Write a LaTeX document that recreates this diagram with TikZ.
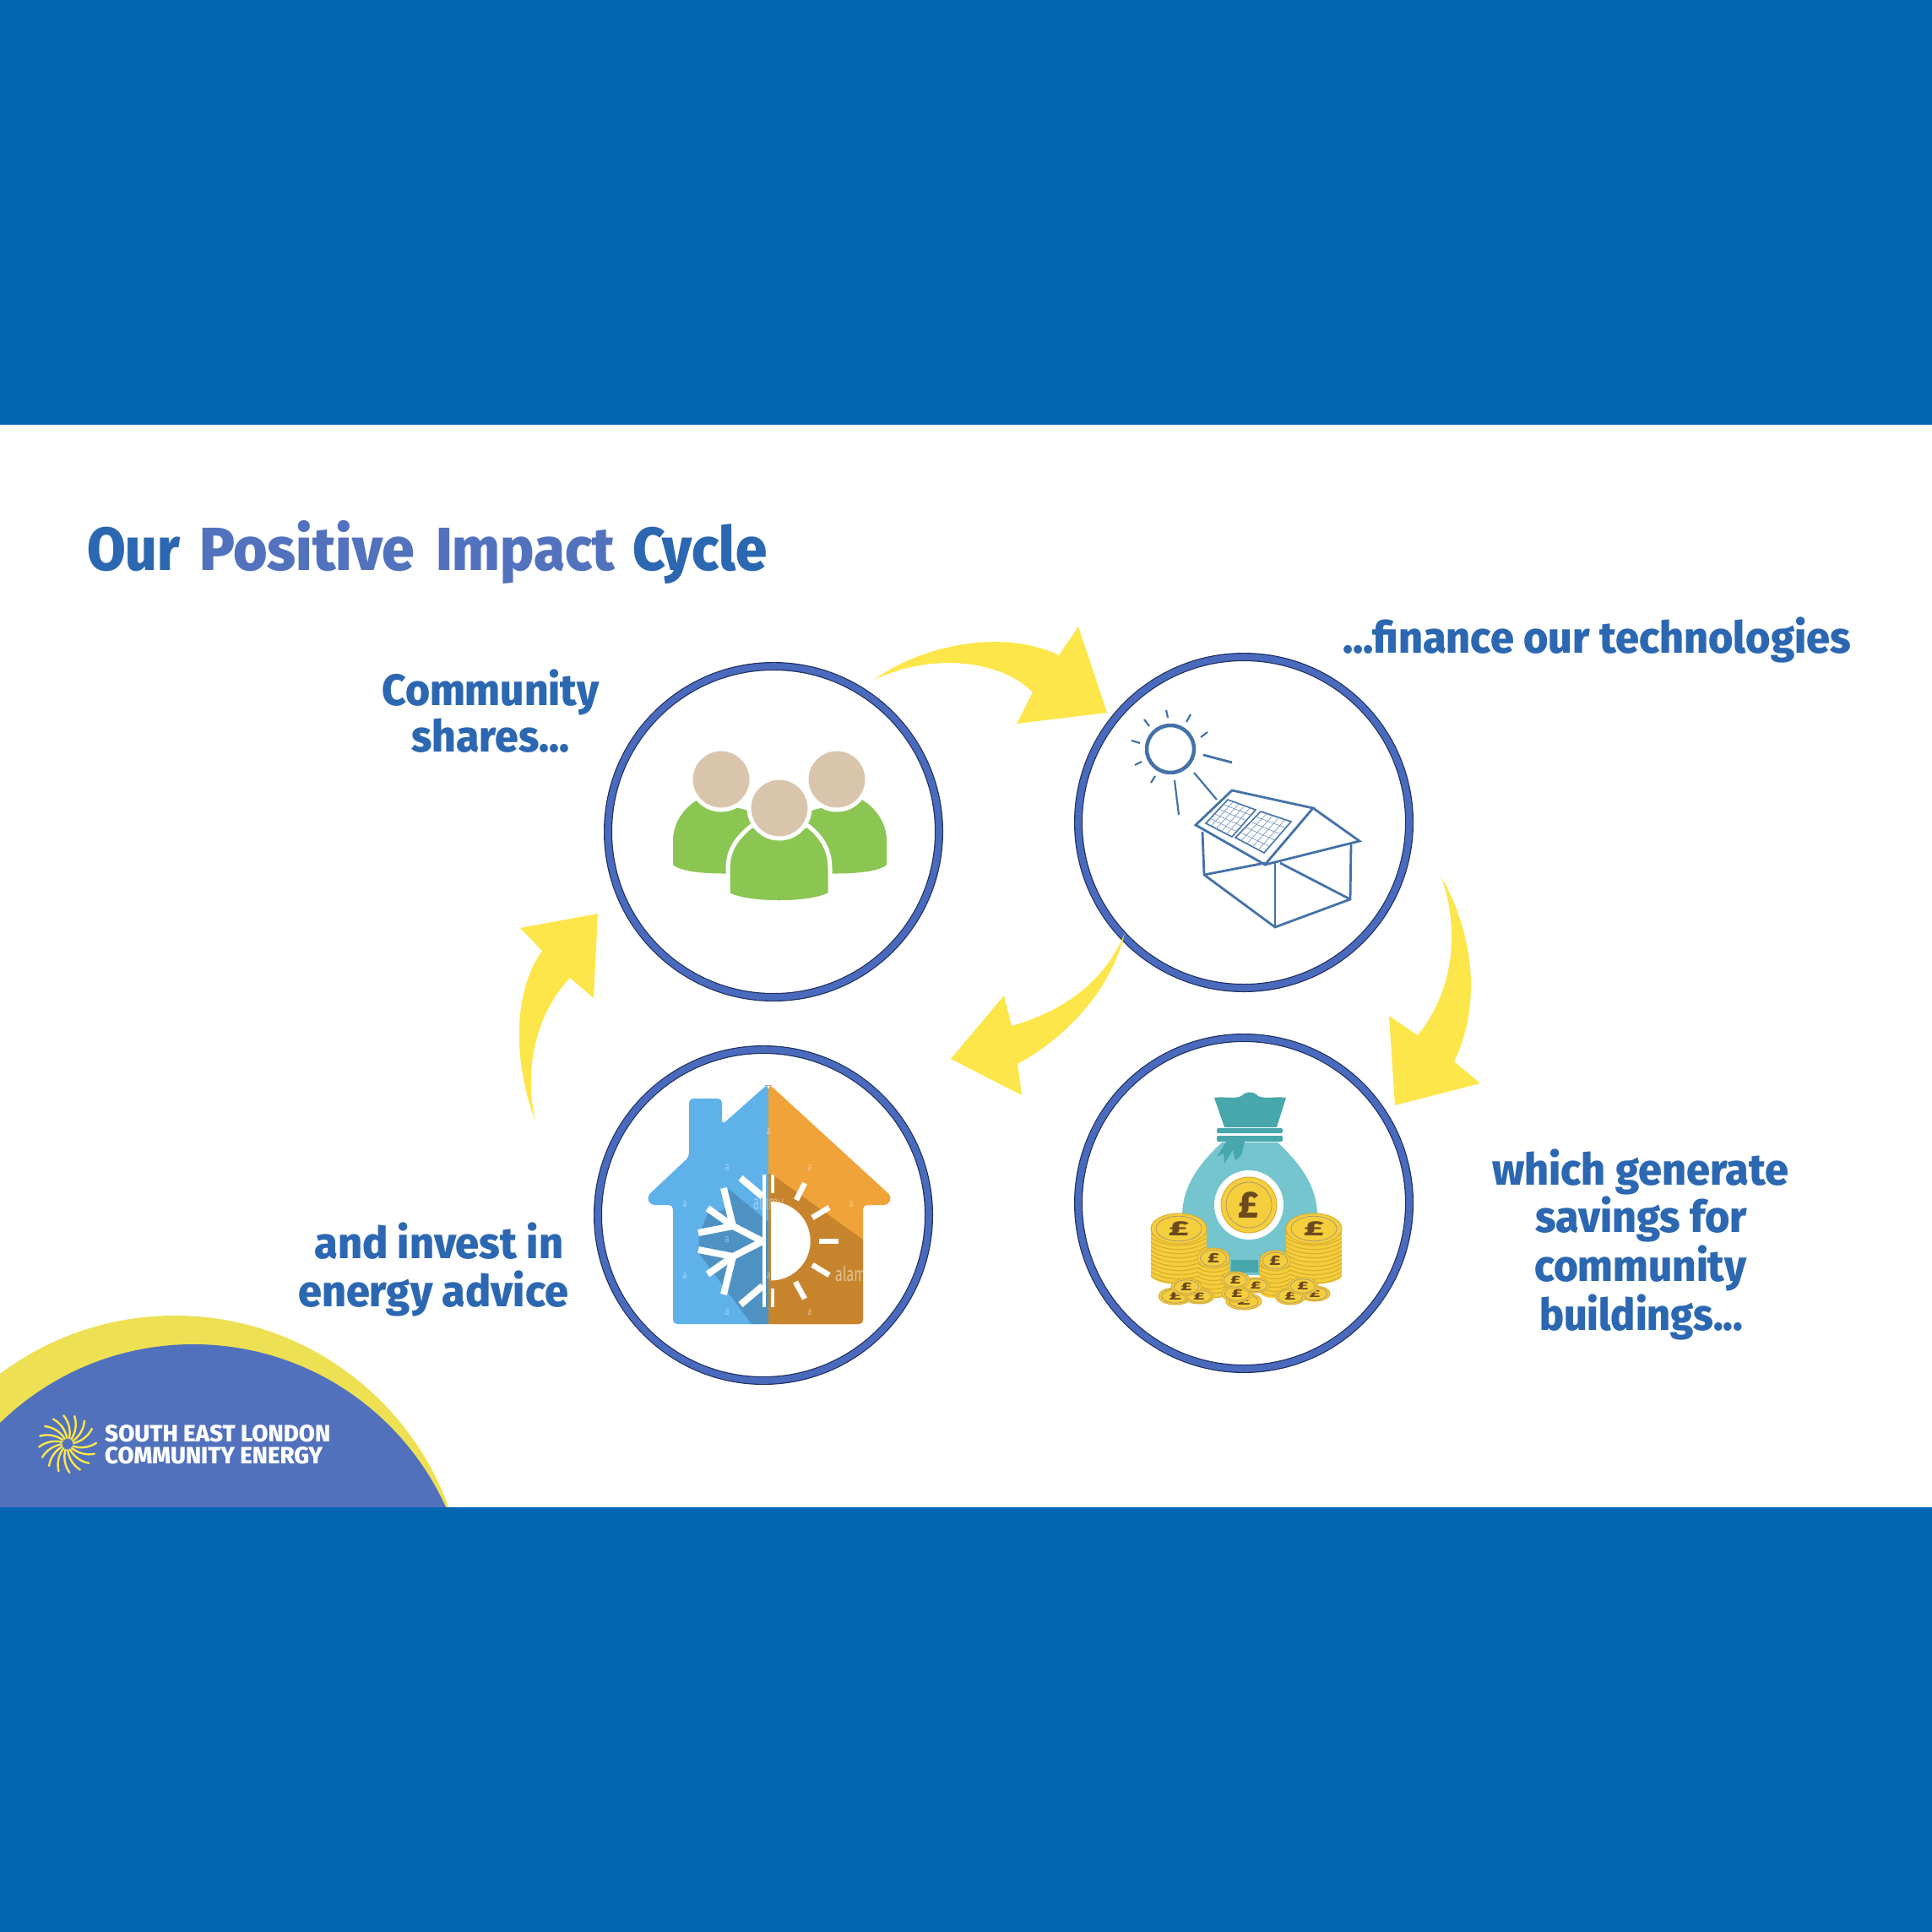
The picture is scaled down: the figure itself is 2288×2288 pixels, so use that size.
\documentclass[tikz,border=0pt]{standalone}
\usepackage{fontspec}
\usepackage{graphicx}
\usetikzlibrary{calc}
\setmainfont[BoldFont={Fira Sans ExtraBold}]{Fira Sans}
\definecolor{band}{HTML}{0266B3}
\definecolor{txtdark}{HTML}{2C67B1}
\definecolor{txtlight}{HTML}{5272BE}
\definecolor{ringblue}{HTML}{4A6BBD}
\definecolor{ringdark}{HTML}{1F2F5E}
\definecolor{arrowy}{HTML}{FCE64A}
\definecolor{logoy}{HTML}{EEE053}
\definecolor{logob}{HTML}{5271BD}
\definecolor{skin}{HTML}{D8C5AC}
\definecolor{grn}{HTML}{8BC653}
\definecolor{linb}{HTML}{4472A8}
\definecolor{hblue}{HTML}{5FB1E9}
\definecolor{hbluedk}{HTML}{4E92C4}
\definecolor{horange}{HTML}{F0A338}
\definecolor{horangedk}{HTML}{C8842C}
\definecolor{bagteal}{HTML}{48A7AD}
\definecolor{baglight}{HTML}{74C5CE}
\definecolor{gold}{HTML}{F4CE3C}
\definecolor{golddk}{HTML}{DDAE2E}
\definecolor{coinbrown}{HTML}{6B4A1E}
\newcommand{\fitw}[3]{\resizebox{#1pt}{\height}{\fontsize{#2pt}{#2pt}\selectfont\bfseries #3}}
\newcommand{\coinp}[4]{%
  \fill[gold,draw=golddk,line width=1pt] (#1,#2) ellipse [x radius=#3,y radius=#4];
  \draw[coinbrown!60,line width=.7pt] (#1,#2) ellipse [x radius=#3*.82,y radius=#4*.82];
  \pgfmathsetmacro{\coinfs}{#4*1.35}%
  \pgfmathsetmacro{\coinrt}{#3/#4}%
  \node[inner sep=0,text=coinbrown] at (#1,#2) {\scalebox{\coinrt}[1]{\fontsize{\coinfs pt}{\coinfs pt}\selectfont\bfseries £}};}
\newcommand{\stackp}[5]{% x y rx ry bottom
  \fill[gold] (#1-#3,#2) rectangle (#1+#3,#5);
  \fill[gold] (#1,#5) ellipse [x radius=#3,y radius=#4*.6];
  \pgfmathtruncatemacro{\ysec}{#2+5}%
  \foreach \yy in {#2,\ysec,...,#5}{\draw[golddk,line width=1.2pt] (#1-#3,\yy+1) .. controls (#1-#3*.5,\yy+#4*.7) and (#1+#3*.5,\yy+#4*.7) .. (#1+#3,\yy+1);}
  \coinp{#1}{#2}{#3}{#4}}
\tikzset{
  ringnode/.style={circle,minimum size=392pt,inner sep=0,fill=white,draw=ringdark,line width=1.2pt,double=ringblue,double distance=7.6pt},
  lab/.style={anchor=base west,inner sep=0,text=txtdark},
  yarrow/.style={fill=arrowy},
  lin/.style={draw=linb,line width=2.8pt},
  sray/.style={draw=white,line width=6.5pt},
  wm/.style={inner sep=0,text=white,opacity=.35}
}
\begin{document}
\begin{tikzpicture}[x=1pt,y=-1pt]
\useasboundingbox (0,0) rectangle (2288,2288);
\fill[white] (0,0) rectangle (2288,2288);
% logo arcs
\fill[logoy] (207,1903) circle [radius=345];
\fill[logob] (229,1920) circle [radius=328];
\fill[band] (0,0) rectangle (2288,503);
\fill[band] (0,1785) rectangle (2288,2288);
% logo sunburst
\foreach \a in {8,30,52,74,96,118,140,162,184,206,228,250,272,294,316,338}{
 \draw[arrowy,line width=2.4pt,line cap=round] ({80+7*cos(\a)},{1710-7*sin(\a)}) .. controls ({80+16*cos(\a+2)},{1710-16*sin(\a+2)}) and ({80+26*cos(\a+12)},{1710-26*sin(\a+12)}) .. ({80+34*cos(\a+24)},{1710-34*sin(\a+24)});}
\node[anchor=base west,inner sep=0,text=white] (lg1) at (124,1707) {\fitw{267}{28}{SOUTH EAST LONDON}};
\node[anchor=base west,inner sep=0,text=white] (lg2) at (124,1733) {\fitw{258}{28}{COMMUNITY ENERGY}};
% title
\node[lab] (t1) at (103,675) {\fitw{110}{72}{Our}};
\node[lab,text=txtlight] (t2) at (236,675) {\fitw{255}{72}{Positive}};
\node[lab,text=txtlight] (t3) at (516,675) {\fitw{212}{72}{Impact}};
\node[lab] (t4) at (749,675) {\fitw{159}{72}{Cycle}};
% labels
\node[lab] (l1a) at (452,835) {\fitw{257}{52}{Community}};
\node[lab] (l1b) at (487,890) {\fitw{187}{52}{shares...}};
\node[lab] (l2) at (1590,773) {\fitw{602}{52}{...finance our technologies}};
\node[lab] (l3a) at (1767,1403) {\fitw{351}{52}{which generate}};
\node[lab] (l3b) at (1818,1459) {\fitw{251}{52}{savings for}};
\node[lab] (l3c) at (1817,1517) {\fitw{251}{52}{community}};
\node[lab] (l3d) at (1823,1575) {\fitw{241}{52}{buildings...}};
\node[lab] (l4a) at (372,1490) {\fitw{295}{52}{and invest in}};
\node[lab] (l4b) at (353,1547) {\fitw{320}{52}{energy advice}};
% circles
\node[ringnode] (c1) at (916,985) {};
\node[ringnode] (c2) at (1473,974) {};
\node[ringnode] (c3) at (1473,1425) {};
\node[ringnode] (c4) at (904,1439) {};
% arrows
\path[yarrow] (1035,805) .. controls (1095,762) and (1190,745) .. (1254,776) -- (1277,742) -- (1311,844) -- (1204,857) -- (1223,820) .. controls (1190,785) and (1110,770) .. (1035,805) -- cycle;
\path[yarrow] (1707,1039) .. controls (1745,1105) and (1755,1190) .. (1722,1257) -- (1753,1283) -- (1652,1309) -- (1645,1203) -- (1679,1226) .. controls (1720,1175) and (1730,1105) .. (1707,1039) -- cycle;
\path[yarrow] (1332,1105) .. controls (1305,1170) and (1250,1200) .. (1198,1215) -- (1189,1179) -- (1126,1254) -- (1210,1297) -- (1205,1260) .. controls (1260,1230) and (1315,1175) .. (1332,1105) -- cycle;
\path[yarrow] (634,1328) .. controls (605,1250) and (610,1170) .. (642,1126) -- (616,1099) -- (708,1082) -- (703,1182) -- (675,1158) .. controls (635,1200) and (620,1265) .. (634,1328) -- cycle;
% people
\fill[grn] (797,1024) -- (797,995) .. controls (797,975) and (810,955) .. (830,945) -- (905,965) -- (880,1034) .. controls (835,1036) and (805,1032) .. (797,1024) -- cycle;
\fill[grn] (1050,1024) -- (1050,995) .. controls (1050,975) and (1037,955) .. (1017,945) -- (942,965) -- (967,1034) .. controls (1012,1036) and (1042,1032) .. (1050,1024) -- cycle;
\fill[skin,draw=white,line width=5pt] (854,923) circle [radius=36];
\fill[skin,draw=white,line width=5pt] (991,923) circle [radius=36];
\filldraw[fill=grn,draw=white,line width=5pt] (862,1059) -- (862,1028) .. controls (862,1005) and (875,990) .. (890,978) -- (957,978) .. controls (972,990) and (983,1005) .. (983,1028) -- (983,1059) .. controls (960,1072) and (885,1072) .. (862,1059) -- cycle;
\fill[skin,draw=white,line width=5pt] (923,957) circle [radius=36];
% solar house
\draw[linb,line width=4.5pt] (1386,887) circle [radius=28];
\foreach \ax/\ay/\bx/\by/\w in {1381/841/1383/850/2.2,1410/846/1405/855/2.2,1430/867/1422/873/2.2,1425/894/1459/903/2.8,1414/915/1441/947/2.2,1391/924/1396/965/2.2,1368/919/1363/927/2.2,1352/902/1344/906/2.2,1340/877/1350/880/2.2,1355/852/1361/860/2.2}{
 \draw[linb,line width=\w pt] (\ax,\ay) -- (\bx,\by);}
\draw[lin] (1459,936) -- (1555,957) -- (1498,1024) -- (1416,977) -- cycle;
\draw[lin] (1555,957) -- (1610,996) -- (1498,1024);
\draw[lin] (1424,985) -- (1426,1036) -- (1510,1098) -- (1599,1065) -- (1600,1000);
\draw[lin] (1510,1098) -- (1510,1022);
\draw[lin] (1426,1036) -- (1498,1022);
\draw[lin] (1516,1022) -- (1599,1065);
\draw[lin,line width=1.6pt] (1454,947) -- (1487,959) -- (1459,991) -- (1428,975) -- cycle;
\draw[lin,line width=1.6pt] (1493,961) -- (1529,973) -- (1497,1010) -- (1463,992) -- cycle;
\foreach \t in {.2,.4,.6,.8}{
 \draw[linb!70,line width=.7pt] ($(1454,947)!\t!(1428,975)$) -- ($(1487,959)!\t!(1459,991)$);
 \draw[linb!70,line width=.7pt] ($(1454,947)!\t!(1487,959)$) -- ($(1428,975)!\t!(1459,991)$);
 \draw[linb!70,line width=.7pt] ($(1493,961)!\t!(1463,992)$) -- ($(1529,973)!\t!(1497,1010)$);
 \draw[linb!70,line width=.7pt] ($(1493,961)!\t!(1529,973)$) -- ($(1463,992)!\t!(1497,1010)$);}
% heat house
\fill[hblue,rounded corners=5pt] (910,1568) -- (797,1568) -- (797,1427) -- (770,1427) -- (766,1417) -- (816,1370) -- (816,1301) -- (855,1301) -- (855,1332) -- (908,1285) -- (910,1285) -- cycle;
\fill[horange,rounded corners=5pt] (910,1285) -- (912,1285) -- (1056,1417) -- (1052,1427) -- (1022,1427) -- (1022,1568) -- (910,1568) -- cycle;
\fill[horangedk] (913,1390) -- (1022,1468) -- (1022,1563) .. controls (1022,1566) and (1020,1568) .. (1017,1568) -- (910,1568) -- (910,1390) -- cycle;
\fill[hbluedk] (910,1447) -- (863,1408) -- (857,1433) -- (838,1437) -- (828,1463) -- (827,1483) -- (890,1568) -- (910,1568) -- cycle;
\begin{scope}
\clip (797,1427) rectangle (1022,1568);
\node[wm,text=white,opacity=.5,anchor=west] (wm1) at (989,1511) {\resizebox{44pt}{\height}{\fontsize{24pt}{24pt}\selectfont alamy}};
\end{scope}
\node[wm] (wm2) at (910,1426) {\resizebox{36pt}{\height}{\fontsize{24pt}{24pt}\selectfont alamy}};
\foreach \wx/\wy [count=\wi] in {910/1340,861/1383,959/1383,811/1426,1008/1426,861/1468,811/1511,910/1511,861/1554,959/1554}{
 \node[wm,opacity=.45] (wa\wi) at (\wx,\wy) {\resizebox{5pt}{\height}{\fontsize{13pt}{13pt}\selectfont a}};}
\draw[draw=white,line width=4pt] (905,1391) -- (905,1548);
\foreach \ax/\ay/\bx/\by in {903/1417/877/1395,903/1523/877/1545,903/1470/868/1452,868/1452/827/1460,903/1470/868/1488,868/1488/827/1480,868/1452/857/1407,868/1452/838/1431,868/1488/857/1533,868/1488/838/1509}{
 \draw[draw=white,line width=8pt] (\ax,\ay) -- (\bx,\by);}
\draw[draw=white,line width=3.5pt] (915,1391) -- (915,1413);
\draw[draw=white,line width=3.5pt] (915,1526) -- (915,1548);
\fill[white] (913,1423) arc (-90:90:46.7) -- cycle;
\foreach \ax/\ay/\bx/\by in {953/1401/943/1421,982/1430/962/1442,993/1470/970/1470,982/1510/962/1498,953/1538/942/1518}{
 \draw[sray] (\ax,\ay) -- (\bx,\by);}
% money bag
\fill[baglight] (1447,1353) .. controls (1420,1378) and (1400,1405) .. (1400,1440) -- (1440,1510) -- (1520,1510) -- (1560,1440) .. controls (1560,1405) and (1540,1378) .. (1513,1353) -- cycle;
\fill[bagteal] (1458,1492) rectangle (1490,1507);
\fill[bagteal] (1438,1300) .. controls (1450,1298) and (1462,1302) .. (1470,1298) .. controls (1476,1292) and (1484,1292) .. (1490,1298) .. controls (1498,1302) and (1512,1298) .. (1523,1300) -- (1512,1335) -- (1450,1335) -- cycle;
\fill[bagteal,rounded corners=2pt] (1441,1336) rectangle (1519,1342);
\fill[bagteal,rounded corners=2pt] (1441,1345) rectangle (1519,1352);
\fill[bagteal] (1452,1352) -- (1441,1370) -- (1449,1366) -- (1450,1378) -- (1460,1362) -- (1463,1374) -- (1470,1368) -- (1474,1352) -- cycle;
\fill[white] (1479,1427) circle [radius=41];
\coinp{1479}{1427}{33}{33}
\stackp{1396}{1455}{33}{18}{1510}
\stackp{1556}{1455}{33}{18}{1510}
\stackp{1437}{1490}{19}{12}{1530}
\stackp{1510}{1493}{18}{12}{1530}
\coinp{1392}{1535}{20}{10}
\coinp{1420}{1535}{18}{9}
\coinp{1405}{1524}{18}{10}
\coinp{1473}{1541}{21}{10}
\coinp{1465}{1532}{18}{10}
\coinp{1487}{1522}{17}{9}
\coinp{1463}{1516}{17}{10}
\coinp{1557}{1532}{18}{9}
\coinp{1528}{1535}{18}{10}
\coinp{1543}{1523}{18}{10}
\end{tikzpicture}
\end{document}
